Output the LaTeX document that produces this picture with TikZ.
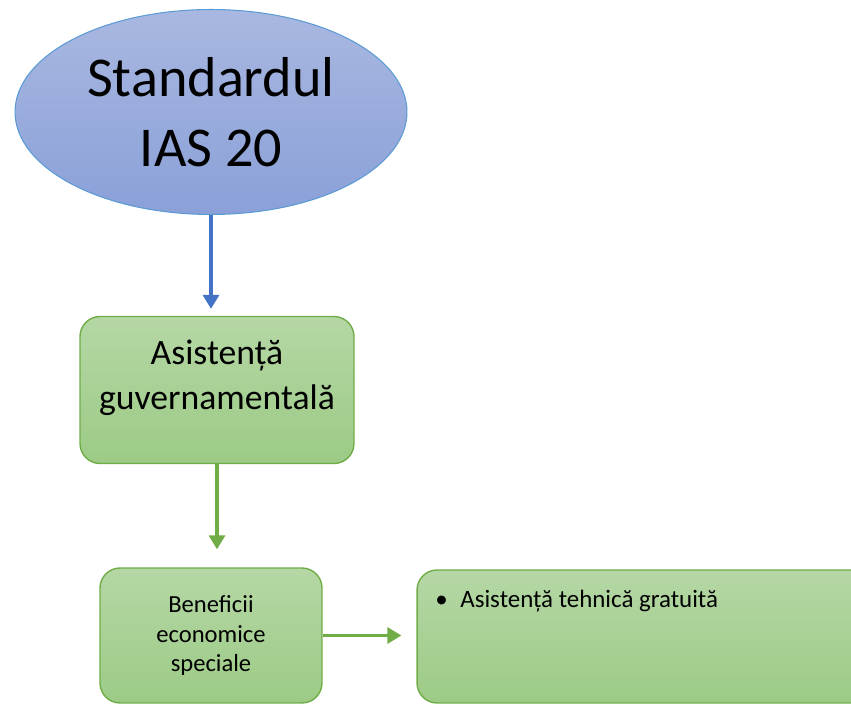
\documentclass[tikz,border=0pt]{standalone}
\usepackage{fontspec}
\setmainfont{Carlito}
\usepackage{tikz}
\definecolor{blueTop}{HTML}{A9B8E1}
\definecolor{blueBot}{HTML}{8AA0D8}
\definecolor{blueLine}{HTML}{5B9BD5}
\definecolor{blueArrow}{HTML}{4472C4}
\definecolor{greenTop}{HTML}{B5D7A5}
\definecolor{greenBot}{HTML}{9CCB86}
\definecolor{greenLine}{HTML}{70AD47}
\usetikzlibrary{arrows.meta,shapes.geometric}
\tikzstyle{ovalbox}=[ellipse, draw=blueLine, line width=0.6pt, top color=blueTop, bottom color=blueBot, inner sep=0pt]
\tikzstyle{greenbox}=[rectangle, rounded corners=0.4cm, draw=greenLine, line width=0.8pt, top color=greenTop, bottom color=greenBot, inner sep=0pt]
\tikzstyle{flow}=[line width=1.9pt, -{Triangle[length=0.28cm,width=0.32cm]}]

\begin{document}
\begin{tikzpicture}[x=0.02cm,y=-0.02cm]
			\useasboundingbox (0,0) rectangle (851,705);
			\clip (0,0) rectangle (851,705);
			\node[ovalbox, minimum width=7.84cm, minimum height=4.1cm, align=center, font=\fontsize{32}{39.5}\selectfont] (ias) at (211,112) {Standardul\\IAS 20};
			\node[greenbox, minimum width=5.48cm, minimum height=2.94cm] (asist) at (217,390) {};
			\node[align=center, inner sep=0pt, font=\fontsize{20.3}{25.5}\selectfont] (asistText) at (217,378) {Asistență\\guvernamentală};
			\node[greenbox, minimum width=4.44cm, minimum height=2.7cm, align=center, font=\fontsize{14}{17}\selectfont] (benef) at (211,635.5) {Beneficii\\economice\\speciale};
			\node[greenbox, minimum width=9.26cm, minimum height=2.66cm] (tehnic) at (648.5,636.5) {};
			\node[anchor=base west, inner sep=0pt, font=\fontsize{14.2}{17}\selectfont] (gratuit) at (435,607) {\makebox[0.5cm][l]{\textbullet}Asistență tehnică gratuită};
			\path[draw=blueArrow, flow, shorten >=0.14cm]
				(ias.south)--(ias.south |- asist.north);
			\path[draw=greenLine, flow, shorten >=0.36cm]
				(asist.south)--(asist.south |- benef.north);
			\path[draw=greenLine, flow, shorten >=0.3cm]
				(benef.east)--(benef.east -| tehnic.west);
		\end{tikzpicture}
\end{document}
